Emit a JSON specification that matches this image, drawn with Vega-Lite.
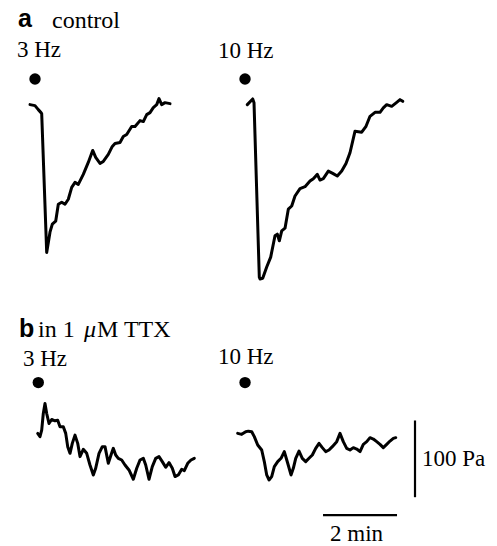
{
  "$schema": "https://vega.github.io/schema/vega-lite/v6.json",
  "width": 497,
  "height": 546,
  "autosize": {"type": "fit", "contains": "padding"},
  "padding": 0,
  "background": "white",
  "config": {"view": {"stroke": null}},
  "datasets": {
    "traces": [
      {"trace": "a3", "t": 0.811, "p": 572.7}, {"trace": "a3", "t": 0.946, "p": 571.4}, {"trace": "a3", "t": 1.035, "p": 566.2}, {"trace": "a3", "t": 1.108, "p": 562.3}, {"trace": "a3", "t": 1.127, "p": 561.0}, {"trace": "a3", "t": 1.262, "p": 380.1}, {"trace": "a3", "t": 1.351, "p": 406.5}, {"trace": "a3", "t": 1.414, "p": 416.9}, {"trace": "a3", "t": 1.505, "p": 420.8}, {"trace": "a3", "t": 1.576, "p": 442.9}, {"trace": "a3", "t": 1.668, "p": 445.5}, {"trace": "a3", "t": 1.757, "p": 442.9}, {"trace": "a3", "t": 1.846, "p": 449.4}, {"trace": "a3", "t": 1.938, "p": 464.9}, {"trace": "a3", "t": 2.027, "p": 471.4}, {"trace": "a3", "t": 2.116, "p": 468.8}, {"trace": "a3", "t": 2.251, "p": 481.8}, {"trace": "a3", "t": 2.386, "p": 497.4}, {"trace": "a3", "t": 2.505, "p": 513.0}, {"trace": "a3", "t": 2.586, "p": 503.9}, {"trace": "a3", "t": 2.703, "p": 496.1}, {"trace": "a3", "t": 2.792, "p": 498.7}, {"trace": "a3", "t": 2.927, "p": 507.8}, {"trace": "a3", "t": 3.035, "p": 518.2}, {"trace": "a3", "t": 3.108, "p": 522.1}, {"trace": "a3", "t": 3.243, "p": 523.4}, {"trace": "a3", "t": 3.332, "p": 531.2}, {"trace": "a3", "t": 3.424, "p": 533.8}, {"trace": "a3", "t": 3.559, "p": 544.2}, {"trace": "a3", "t": 3.649, "p": 544.2}, {"trace": "a3", "t": 3.784, "p": 551.9}, {"trace": "a3", "t": 3.873, "p": 550.6}, {"trace": "a3", "t": 3.965, "p": 559.7}, {"trace": "a3", "t": 4.054, "p": 562.3}, {"trace": "a3", "t": 4.143, "p": 568.8}, {"trace": "a3", "t": 4.235, "p": 572.7}, {"trace": "a3", "t": 4.297, "p": 580.5}, {"trace": "a3", "t": 4.370, "p": 572.7}, {"trace": "a3", "t": 4.459, "p": 575.3}, {"trace": "a3", "t": 4.595, "p": 574.0},
      {"trace": "a10", "t": 6.684, "p": 572.7}, {"trace": "a10", "t": 6.830, "p": 580.1}, {"trace": "a10", "t": 6.865, "p": 575.3}, {"trace": "a10", "t": 7.008, "p": 347.7}, {"trace": "a10", "t": 7.027, "p": 345.5}, {"trace": "a10", "t": 7.100, "p": 346.4}, {"trace": "a10", "t": 7.208, "p": 361.0}, {"trace": "a10", "t": 7.316, "p": 374.0}, {"trace": "a10", "t": 7.432, "p": 401.7}, {"trace": "a10", "t": 7.495, "p": 403.9}, {"trace": "a10", "t": 7.549, "p": 395.2}, {"trace": "a10", "t": 7.614, "p": 408.2}, {"trace": "a10", "t": 7.703, "p": 411.7}, {"trace": "a10", "t": 7.792, "p": 436.4}, {"trace": "a10", "t": 7.884, "p": 440.6}, {"trace": "a10", "t": 7.973, "p": 453.6}, {"trace": "a10", "t": 8.108, "p": 463.2}, {"trace": "a10", "t": 8.243, "p": 465.8}, {"trace": "a10", "t": 8.378, "p": 473.1}, {"trace": "a10", "t": 8.468, "p": 476.2}, {"trace": "a10", "t": 8.576, "p": 481.8}, {"trace": "a10", "t": 8.649, "p": 474.4}, {"trace": "a10", "t": 8.738, "p": 476.2}, {"trace": "a10", "t": 8.873, "p": 486.1}, {"trace": "a10", "t": 8.992, "p": 483.1}, {"trace": "a10", "t": 9.116, "p": 479.6}, {"trace": "a10", "t": 9.235, "p": 486.1}, {"trace": "a10", "t": 9.351, "p": 496.1}, {"trace": "a10", "t": 9.459, "p": 510.0}, {"trace": "a10", "t": 9.595, "p": 538.1}, {"trace": "a10", "t": 9.776, "p": 536.8}, {"trace": "a10", "t": 9.892, "p": 544.5}, {"trace": "a10", "t": 10.0, "p": 557.5}, {"trace": "a10", "t": 10.135, "p": 562.7}, {"trace": "a10", "t": 10.270, "p": 562.7}, {"trace": "a10", "t": 10.359, "p": 568.4}, {"trace": "a10", "t": 10.451, "p": 572.7}, {"trace": "a10", "t": 10.586, "p": 570.5}, {"trace": "a10", "t": 10.722, "p": 575.7}, {"trace": "a10", "t": 10.811, "p": 579.2}, {"trace": "a10", "t": 10.884, "p": 577.0},
      {"trace": "b3", "t": 1.019, "p": 144.2}, {"trace": "b3", "t": 1.081, "p": 139.9}, {"trace": "b3", "t": 1.127, "p": 148.4}, {"trace": "b3", "t": 1.170, "p": 170.1}, {"trace": "b3", "t": 1.216, "p": 183.1}, {"trace": "b3", "t": 1.262, "p": 170.1}, {"trace": "b3", "t": 1.324, "p": 157.1}, {"trace": "b3", "t": 1.397, "p": 162.3}, {"trace": "b3", "t": 1.486, "p": 160.6}, {"trace": "b3", "t": 1.559, "p": 161.4}, {"trace": "b3", "t": 1.622, "p": 152.9}, {"trace": "b3", "t": 1.711, "p": 152.9}, {"trace": "b3", "t": 1.776, "p": 144.2}, {"trace": "b3", "t": 1.830, "p": 126.9}, {"trace": "b3", "t": 1.892, "p": 118.2}, {"trace": "b3", "t": 1.954, "p": 131.2}, {"trace": "b3", "t": 2.027, "p": 141.9}, {"trace": "b3", "t": 2.100, "p": 131.2}, {"trace": "b3", "t": 2.162, "p": 113.9}, {"trace": "b3", "t": 2.251, "p": 123.4}, {"trace": "b3", "t": 2.343, "p": 118.2}, {"trace": "b3", "t": 2.432, "p": 103.0}, {"trace": "b3", "t": 2.522, "p": 90.0}, {"trace": "b3", "t": 2.586, "p": 98.7}, {"trace": "b3", "t": 2.676, "p": 118.2}, {"trace": "b3", "t": 2.765, "p": 126.9}, {"trace": "b3", "t": 2.838, "p": 126.9}, {"trace": "b3", "t": 2.927, "p": 105.2}, {"trace": "b3", "t": 3.000, "p": 116.0}, {"trace": "b3", "t": 3.062, "p": 124.7}, {"trace": "b3", "t": 3.127, "p": 116.0}, {"trace": "b3", "t": 3.197, "p": 111.7}, {"trace": "b3", "t": 3.289, "p": 109.5}, {"trace": "b3", "t": 3.378, "p": 103.0}, {"trace": "b3", "t": 3.486, "p": 96.5}, {"trace": "b3", "t": 3.603, "p": 84.4}, {"trace": "b3", "t": 3.695, "p": 98.7}, {"trace": "b3", "t": 3.784, "p": 109.5}, {"trace": "b3", "t": 3.873, "p": 111.7}, {"trace": "b3", "t": 3.938, "p": 103.0}, {"trace": "b3", "t": 4.027, "p": 84.4}, {"trace": "b3", "t": 4.116, "p": 100.9}, {"trace": "b3", "t": 4.208, "p": 111.7}, {"trace": "b3", "t": 4.297, "p": 113.9}, {"trace": "b3", "t": 4.386, "p": 107.4}, {"trace": "b3", "t": 4.478, "p": 100.0}, {"trace": "b3", "t": 4.568, "p": 106.1}, {"trace": "b3", "t": 4.657, "p": 98.7}, {"trace": "b3", "t": 4.730, "p": 87.9}, {"trace": "b3", "t": 4.819, "p": 90.0}, {"trace": "b3", "t": 4.911, "p": 97.4}, {"trace": "b3", "t": 4.981, "p": 95.7}, {"trace": "b3", "t": 5.073, "p": 105.2}, {"trace": "b3", "t": 5.162, "p": 109.5}, {"trace": "b3", "t": 5.251, "p": 111.7},
      {"trace": "b10", "t": 6.424, "p": 144.2}, {"trace": "b10", "t": 6.532, "p": 142.9}, {"trace": "b10", "t": 6.641, "p": 146.4}, {"trace": "b10", "t": 6.711, "p": 147.1}, {"trace": "b10", "t": 6.803, "p": 146.4}, {"trace": "b10", "t": 6.873, "p": 139.9}, {"trace": "b10", "t": 6.965, "p": 129.0}, {"trace": "b10", "t": 7.073, "p": 122.5}, {"trace": "b10", "t": 7.143, "p": 107.4}, {"trace": "b10", "t": 7.208, "p": 90.0}, {"trace": "b10", "t": 7.270, "p": 83.5}, {"trace": "b10", "t": 7.343, "p": 87.9}, {"trace": "b10", "t": 7.414, "p": 100.9}, {"trace": "b10", "t": 7.505, "p": 107.4}, {"trace": "b10", "t": 7.595, "p": 111.7}, {"trace": "b10", "t": 7.684, "p": 120.4}, {"trace": "b10", "t": 7.776, "p": 105.2}, {"trace": "b10", "t": 7.865, "p": 90.0}, {"trace": "b10", "t": 7.927, "p": 98.7}, {"trace": "b10", "t": 7.992, "p": 111.7}, {"trace": "b10", "t": 8.081, "p": 121.2}, {"trace": "b10", "t": 8.170, "p": 111.7}, {"trace": "b10", "t": 8.262, "p": 107.4}, {"trace": "b10", "t": 8.351, "p": 111.7}, {"trace": "b10", "t": 8.441, "p": 116.0}, {"trace": "b10", "t": 8.532, "p": 124.7}, {"trace": "b10", "t": 8.622, "p": 131.2}, {"trace": "b10", "t": 8.711, "p": 125.6}, {"trace": "b10", "t": 8.803, "p": 120.4}, {"trace": "b10", "t": 8.892, "p": 122.5}, {"trace": "b10", "t": 8.981, "p": 126.9}, {"trace": "b10", "t": 9.100, "p": 133.4}, {"trace": "b10", "t": 9.189, "p": 144.2}, {"trace": "b10", "t": 9.278, "p": 133.4}, {"trace": "b10", "t": 9.370, "p": 124.7}, {"trace": "b10", "t": 9.459, "p": 122.5}, {"trace": "b10", "t": 9.549, "p": 125.6}, {"trace": "b10", "t": 9.641, "p": 123.8}, {"trace": "b10", "t": 9.730, "p": 120.4}, {"trace": "b10", "t": 9.819, "p": 129.9}, {"trace": "b10", "t": 9.911, "p": 133.4}, {"trace": "b10", "t": 10.000, "p": 138.6}, {"trace": "b10", "t": 10.089, "p": 136.8}, {"trace": "b10", "t": 10.181, "p": 133.4}, {"trace": "b10", "t": 10.270, "p": 129.9}, {"trace": "b10", "t": 10.359, "p": 125.6}, {"trace": "b10", "t": 10.451, "p": 129.9}, {"trace": "b10", "t": 10.541, "p": 134.2}, {"trace": "b10", "t": 10.630, "p": 137.7}, {"trace": "b10", "t": 10.695, "p": 138.6}
    ],
    "stimuli": [
      {"trace": "a3", "t": 0.946, "p": 606.1},
      {"trace": "a10", "t": 6.622, "p": 606.1},
      {"trace": "b3", "t": 1.035, "p": 210.4},
      {"trace": "b10", "t": 6.622, "p": 210.4}
    ],
    "scalebars": [
      {"bar": "100 Pa", "t": 11.216, "t2": 11.216, "p": 61.0, "p2": 161.0},
      {"bar": "2 min", "t": 8.730, "t2": 10.730, "p": 37.7, "p2": 37.7}
    ],
    "panelLetters": [
      {"label": "a", "t": 0.486, "p": 674.0},
      {"label": "b", "t": 0.514, "p": 270.1}
    ],
    "labels": [
      {"label": "control", "t": 1.405, "p": 672.7, "kind": "head"},
      {"label": "in 1", "t": 1.027, "p": 270.1, "kind": "head"},
      {"label": "M TTX", "t": 2.622, "p": 270.1, "kind": "head"},
      {"label": "3 Hz", "t": 0.459, "p": 635.1, "kind": "sub"},
      {"label": "10 Hz", "t": 5.892, "p": 633.8, "kind": "sub"},
      {"label": "3 Hz", "t": 0.622, "p": 232.5, "kind": "sub"},
      {"label": "10 Hz", "t": 5.892, "p": 235.1, "kind": "sub"},
      {"label": "100 Pa", "t": 11.405, "p": 101.3, "kind": "sub"},
      {"label": "2 min", "t": 8.919, "p": 3.9, "kind": "sub"}
    ],
    "italic": [
      {"label": "μ", "t": 2.270, "p": 270.1}
    ]
  },
  "layer": [
    {
      "data": {"name": "traces"},
      "mark": {"type": "line", "color": "black", "strokeWidth": 3, "strokeJoin": "round", "strokeCap": "round"},
      "encoding": {
        "x": {"field": "t", "type": "quantitative", "axis": null, "scale": {"domain": [0, 13.432], "nice": false, "zero": false}},
        "y": {"field": "p", "type": "quantitative", "axis": null, "scale": {"domain": [0, 709.1], "nice": false, "zero": false}},
        "detail": {"field": "trace", "type": "nominal"}
      }
    },
    {
      "data": {"name": "stimuli"},
      "mark": {"type": "circle", "color": "black", "opacity": 1, "size": 130},
      "encoding": {
        "x": {"field": "t", "type": "quantitative"},
        "y": {"field": "p", "type": "quantitative"}
      }
    },
    {
      "data": {"name": "scalebars"},
      "mark": {"type": "rule", "color": "black", "strokeWidth": 2.2},
      "encoding": {
        "x": {"field": "t", "type": "quantitative"},
        "x2": {"field": "t2"},
        "y": {"field": "p", "type": "quantitative"},
        "y2": {"field": "p2"}
      }
    },
    {
      "data": {"name": "panelLetters"},
      "mark": {"type": "text", "font": "Liberation Sans, Arial, sans-serif", "fontWeight": "bold", "fontSize": 25, "align": "left", "baseline": "alphabetic", "color": "black"},
      "encoding": {
        "x": {"field": "t", "type": "quantitative"},
        "y": {"field": "p", "type": "quantitative"},
        "text": {"field": "label"}
      }
    },
    {
      "data": {"name": "labels"},
      "transform": [{"filter": "datum.kind === 'head'"}],
      "mark": {"type": "text", "font": "'Liberation Serif', 'Times New Roman', 'DejaVu Serif', serif", "fontSize": 24, "align": "left", "baseline": "alphabetic", "color": "black"},
      "encoding": {
        "x": {"field": "t", "type": "quantitative"},
        "y": {"field": "p", "type": "quantitative"},
        "text": {"field": "label"}
      }
    },
    {
      "data": {"name": "labels"},
      "transform": [{"filter": "datum.kind === 'sub'"}],
      "mark": {"type": "text", "font": "'Liberation Serif', 'Times New Roman', 'DejaVu Serif', serif", "fontSize": 23, "align": "left", "baseline": "alphabetic", "color": "black"},
      "encoding": {
        "x": {"field": "t", "type": "quantitative"},
        "y": {"field": "p", "type": "quantitative"},
        "text": {"field": "label"}
      }
    },
    {
      "data": {"name": "italic"},
      "mark": {"type": "text", "font": "'Liberation Serif', 'Times New Roman', 'DejaVu Serif', serif", "fontStyle": "italic", "fontSize": 24, "align": "left", "baseline": "alphabetic", "color": "black"},
      "encoding": {
        "x": {"field": "t", "type": "quantitative"},
        "y": {"field": "p", "type": "quantitative"},
        "text": {"field": "label"}
      }
    }
  ]
}
